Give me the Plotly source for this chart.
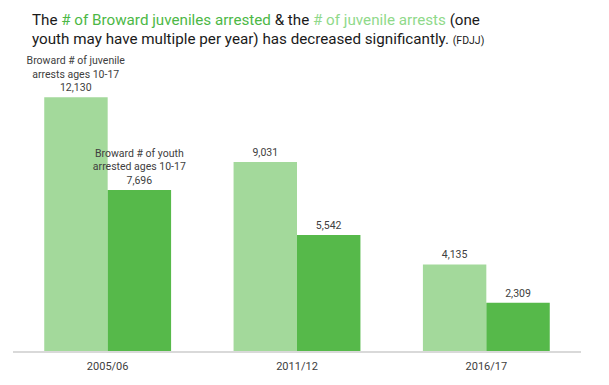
import plotly.graph_objects as go

categories = ["2005/06", "2011/12", "2016/17"]
juvenile_arrests = [12130, 9031, 4135]
youth_arrested = [7696, 5542, 2309]
arrests_labels = ["Broward # of juvenile<br>arrests ages 10-17<br>12,130", "9,031", "4,135"]
youth_labels = ["Broward # of youth<br>arrested ages 10-17<br>7,696", "5,542", "2,309"]

LIGHT = "#a3d99b"
DARK = "#56b94a"
FONT = "Roboto"

fig = go.Figure()
fig.add_trace(go.Bar(
    x=categories, y=juvenile_arrests, name="Broward # of juvenile arrests ages 10-17",
    marker=dict(color=LIGHT, line=dict(width=0)),
    text=arrests_labels, textposition="outside", constraintext="none",
    textfont=dict(family=FONT, size=10.5, color="#404040"), cliponaxis=False,
))
fig.add_trace(go.Bar(
    x=categories, y=youth_arrested, name="Broward # of youth arrested ages 10-17",
    marker=dict(color=DARK, line=dict(width=0)),
    text=youth_labels, textposition="outside", constraintext="none",
    textfont=dict(family=FONT, size=10.5, color="#404040"), cliponaxis=False,
))

title_font = dict(family=FONT, size=15.2, color="#1a1a1a")
fig.update_layout(
    width=609, height=385,
    margin=dict(l=13, r=28, t=79, b=31),
    paper_bgcolor="white", plot_bgcolor="white",
    barmode="group", bargap=0.33, bargroupgap=0,
    showlegend=False,
    font=dict(family=FONT, color="#404040"),
    xaxis=dict(showline=True, linecolor="#d9d9d9", linewidth=1.5, ticks="",
               ticklabelstandoff=4,
               tickfont=dict(family=FONT, size=11, color="#404040"), showgrid=False),
    yaxis=dict(range=[0, 13000], visible=False, showgrid=False, zeroline=False),
    annotations=[
        dict(xref="paper", yref="paper", x=0.03, y=1 + (79 - 19) / 275,
             xanchor="left", yanchor="middle", align="left", showarrow=False,
             font=title_font,
             text=("The <span style='color:#4cb846'># of Broward juveniles arrested</span> & the "
                   "<span style='color:#8fd98a'># of juvenile arrests</span> (one")),
        dict(xref="paper", yref="paper", x=0.03, y=1 + (79 - 39) / 275,
             xanchor="left", yanchor="middle", align="left", showarrow=False,
             font=title_font,
             text=("youth may have multiple per year) has decreased significantly. "
                   "<span style='font-size:10.5px'>(FDJJ)</span>")),
    ],
)

fig.write_html("out.html", config={"displayModeBar": False},
               post_script="document.body.style.margin='0';")
